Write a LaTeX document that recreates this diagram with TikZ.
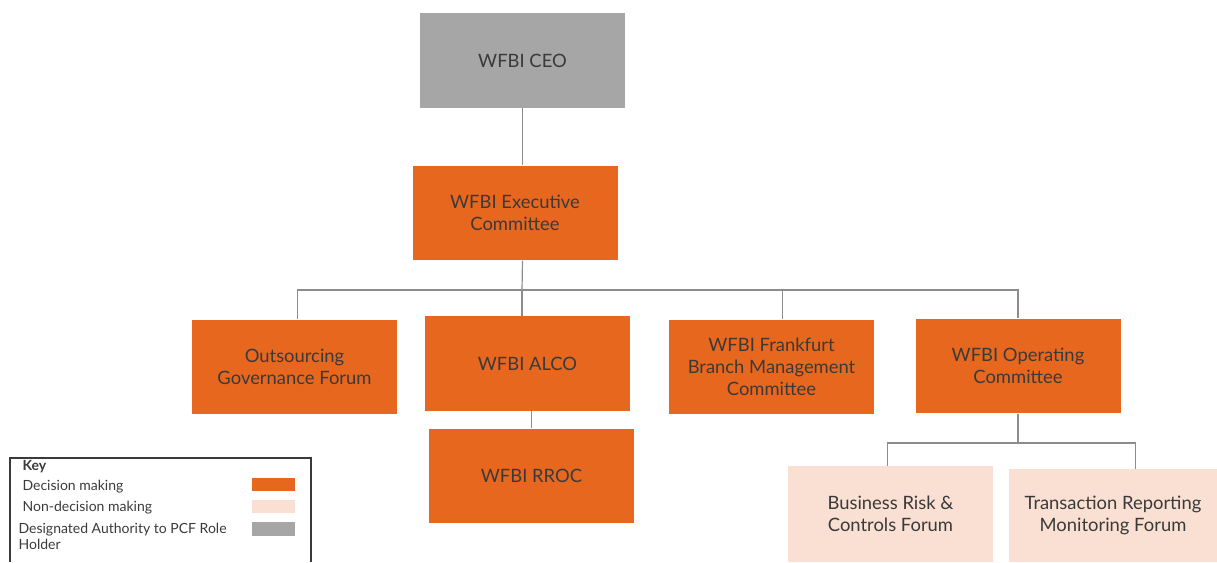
\documentclass[tikz,border=0pt]{standalone}
\usepackage{fontspec}
\setmainfont{Lato}
\usetikzlibrary{positioning}

\definecolor{wforange}{HTML}{E8671F}
\definecolor{wfpeach}{HTML}{FAE0D3}
\definecolor{wfgrey}{HTML}{A6A6A6}
\definecolor{wfline}{HTML}{8C8C8C}
\definecolor{wftext}{HTML}{3A3A3A}

\begin{document}
\begin{tikzpicture}[x=0.75pt, y=-0.75pt,
    box/.style={rectangle, minimum width=153.75pt, minimum height=71pt,
        align=center, inner sep=2pt, text=wftext, font=\fontsize{13.8}{16.5}\selectfont},
    decision/.style={box, fill=wforange},
    nondecision/.style={box, fill=wfpeach},
    pcf/.style={box, fill=wfgrey},
    link/.style={draw=wfline, line width=0.9pt},
    swatch/.style={rectangle, minimum width=32pt, minimum height=10pt, inner sep=0pt},
    keytext/.style={anchor=west, text=wftext, font=\fontsize{10.5}{12}\selectfont, align=left, inner sep=1pt}
]
    \useasboundingbox (0,0) rectangle (1217,562);

    % top of the chart
    \node[pcf] (ceo) at (522.5,60.5) {WFBI CEO};
    \node[decision] (exec) at (515,213) {WFBI Executive\\Committee};

    % committees under the executive committee
    \node[decision] (ogf) at (294.5,367) {Outsourcing\\Governance Forum};
    \node[decision] (alco) at (527.5,363.5) {WFBI ALCO};
    \node[decision] (fbmc) at (771.5,367) {WFBI Frankfurt\\Branch Management\\Committee};
    \node[decision] (opco) at (1018,366) {WFBI Operating\\Committee};
    \node[decision] (rroc) at (531.5,476) {WFBI RROC};

    % forums under the operating committee
    \node[nondecision, minimum height=72pt] (brcf) at (890.5,514) {Business Risk \&\\Controls Forum};
    \node[nondecision, minimum width=156pt, minimum height=70pt] (trmf) at (1113,515.5) {Transaction Reporting\\Monitoring Forum};

    % connectors
    \coordinate (bus) at (522,290);
    \coordinate (opbus) at (1018,443);
    \draw[link] (ceo.south) -- (ceo.south |- exec.north);
    \draw[link] (exec.south -| ceo.south) -- (bus);
    \draw[link] (bus) -| ([xshift=2pt]ogf.north);
    \draw[link] (bus) -- (bus |- alco.north);
    \draw[link] (bus) -| ([xshift=8pt]fbmc.north);
    \draw[link] (bus) -| (opco.north);
    \draw[link] (alco.south -| rroc.north) -- (rroc.north);
    \draw[link] (opco.south) -- (opbus);
    \draw[link] (opbus) -| ([xshift=-2pt]brcf.north);
    \draw[link] (opbus) -| ([xshift=17pt]trmf.north);

    % key
    \draw[draw=wftext, line width=0.9pt] (10,562) -- (10,458) -- (311,458) -- (311,562);
    \node[keytext, font=\fontsize{10.5}{12}\selectfont\bfseries] (keyhead) at (21,467) {Key};
    \node[keytext] (kdec) at (21,487) {Decision making};
    \node[keytext] (knon) at (21,508) {Non-decision making};
    \node[keytext] (kpcf) at (17,536) {Designated Authority to PCF Role\\Holder};
    \node[swatch, fill=wforange] (sdec) at (273.5,484.5) {};
    \node[swatch, fill=wfpeach] (snon) at (273.5,506.5) {};
    \node[swatch, fill=wfgrey] (spcf) at (273.5,529) {};
\end{tikzpicture}
\end{document}
